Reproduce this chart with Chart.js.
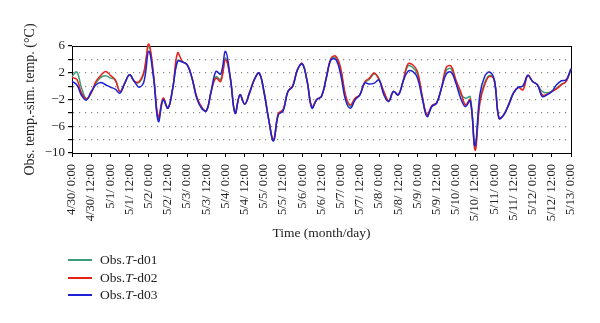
<!DOCTYPE html>
<html>
<head>
<meta charset="utf-8">
<script src="https://cdn.jsdelivr.net/npm/chart.js@4/dist/chart.umd.min.js"></script>
<style>
  html, body { margin: 0; padding: 0; background: #fff; }
  #wrap { position: relative; width: 600px; height: 323px; }
  #c { position: absolute; left: 0; top: 0; }
  #legend { position: absolute; left: 68px; top: 251px; font-family: "Liberation Serif", "DejaVu Serif", serif; font-size: 13.5px; color: #222; }
  .row { position: absolute; left: 0; height: 17px; line-height: 17px; white-space: nowrap; }
  .sw { position: absolute; left: 0; top: 8px; width: 24px; height: 2px; }
  .tx { position: absolute; left: 32px; top: 0; }
</style>
</head>
<body>
<div id="wrap">
  <canvas id="c" width="600" height="323"></canvas>
  <div id="legend"></div>
</div>
<script>
// ---- data (hours since 4/30 0:00, every 3 h) ----
const hours = Array.from({length: 105}, (_, i) => i * 3);

const seriesNames = ["d01", "d02", "d03"];
const seriesColors = ["#3a9f78", "#e8201c", "#1f1fd6"];

const d01 = [1.45, 2.1, -0.3, -1.9, -1.0, 0.45, 1.3, 1.55, 1.2, 0.95, -0.8, 0.45, 1.7, 0.7, 0.55, 1.95, 6.0, 1.5, -5.05, -1.9, -3.3, -0.3, 3.8, 3.65, 3.2, 1.25, -1.7, -3.2, -3.7, -0.8, 1.4, 1.0, 4.2, 1.2, -4.05, -1.3, -2.7, -1.0, 1.0, 1.95, -0.8, -5.0, -8.1, -4.2, -3.6, -0.8, 0.0, 2.45, 3.35, 0.75, -3.2, -2.0, -1.5, 1.25, 4.1, 4.2, 2.3, -1.6, -3.0, -1.9, -1.3, 0.5, 1.05, 1.8, 1.1, -1.0, -2.2, -0.8, -1.3, 0.7, 3.0, 2.8, 1.8, -1.6, -4.4, -3.0, -2.5, -0.3, 2.3, 2.6, 0.7, -1.2, -1.8, -1.6, -9.2, -2.2, 0.5, 1.6, 0.95, -4.8, -4.2, -2.7, -1.0, -0.2, 0.0, 1.6, 0.7, 0.2, -0.8, -1.0, -0.8, -0.3, 0.3, 0.7, 2.6];
const d02 = [1.3, 1.0, -1.05, -1.9, -1.0, 0.7, 1.6, 2.2, 1.6, 0.95, -0.8, 0.45, 1.7, 0.7, 0.7, 2.2, 6.3, 1.7, -4.65, -1.8, -3.3, -0.3, 4.95, 3.7, 3.2, 1.3, -1.6, -3.1, -3.7, -0.8, 1.2, 0.7, 3.95, 1.2, -4.05, -1.3, -2.7, -0.9, 1.0, 1.95, -0.8, -5.0, -8.0, -4.1, -3.5, -0.8, 0.1, 2.5, 3.4, 0.8, -3.1, -2.0, -1.5, 1.3, 4.2, 4.45, 2.7, -1.3, -2.8, -1.8, -1.3, 0.6, 1.2, 1.95, 0.95, -0.8, -2.2, -0.8, -1.3, 0.7, 3.3, 3.2, 2.2, -1.5, -4.3, -2.9, -2.5, -0.3, 2.8, 3.0, 0.95, -0.8, -2.8, -2.0, -9.6, -2.55, 0.2, 1.45, 0.95, -4.8, -4.3, -2.8, -1.05, -0.2, -0.55, 1.6, 0.7, 0.2, -1.3, -1.2, -0.8, -0.4, 0.2, 0.7, 2.6];
const d03 = [0.7, 0.2, -1.4, -2.1, -0.8, 0.2, 0.55, 0.2, -0.15, -0.45, -1.05, 0.45, 1.7, 0.7, -0.15, 0.7, 5.2, 1.2, -5.3, -2.05, -3.3, -0.3, 3.7, 3.6, 3.2, 1.2, -1.8, -3.3, -3.7, -0.8, 2.2, 1.8, 5.2, 1.2, -4.05, -1.3, -2.7, -1.05, 0.95, 1.95, -0.8, -5.0, -8.2, -4.3, -3.7, -0.8, -0.05, 2.45, 3.3, 0.7, -3.3, -2.05, -1.55, 1.2, 3.95, 3.95, 1.7, -2.05, -3.3, -2.05, -1.3, 0.45, 0.3, 0.45, 0.9, -1.3, -2.3, -0.8, -1.3, 0.7, 2.2, 2.2, 1.2, -1.8, -4.55, -3.05, -2.55, -0.3, 1.8, 2.1, 0.45, -1.8, -3.05, -2.2, -8.9, -1.3, 1.45, 2.1, 0.95, -4.8, -4.3, -2.8, -1.05, -0.2, 0.05, 1.6, 0.7, 0.2, -1.55, -1.3, -0.8, 0.2, 0.8, 0.95, 2.6];

const xTickLabels = ["4/30/ 0:00", "4/30/ 12:00", "5/1/ 0:00", "5/1/ 12:00", "5/2/ 0:00", "5/2/ 12:00", "5/3/ 0:00", "5/3/ 12:00", "5/4/ 0:00", "5/4/ 12:00", "5/5/ 0:00", "5/5/ 12:00", "5/6/ 0:00", "5/6/ 12:00", "5/7/ 0:00", "5/7/ 12:00", "5/8/ 0:00", "5/8/ 12:00", "5/9/ 0:00", "5/9/ 12:00", "5/10/ 0:00", "5/10/ 12:00", "5/11/ 0:00", "5/11/ 12:00", "5/12/ 0:00", "5/12/ 12:00", "5/13/ 0:00"];
const yLabelValues = [6, 2, -2, -6, -10];

const seriesValues = [d01, d02, d03];

// ---- chart ----
const serif = "'Liberation Serif', 'DejaVu Serif', serif";
const datasets = seriesValues.map((vals, k) => ({
  label: "Obs.T-" + seriesNames[k],
  data: vals.map((v, i) => ({x: hours[i], y: v})),
  borderColor: seriesColors[k],
  backgroundColor: seriesColors[k],
  borderWidth: 1.5,
  pointRadius: 0,
  tension: 0.4,
  fill: false,
  clip: false,
  order: seriesValues.length - k
}));

new Chart(document.getElementById('c'), {
  type: 'line',
  data: { datasets },
  options: {
    responsive: false,
    animation: false,
    layout: { padding: { left: 0, right: 0, top: 0, bottom: 78 } },
    plugins: { legend: { display: false }, tooltip: { enabled: false } },
    scales: {
      x: {
        type: 'linear', position: 'bottom', min: 0, max: 312,
        afterFit: s => { s.height = 92; },
        ticks: {
          stepSize: 12, autoSkip: false, maxRotation: 90, minRotation: 90, padding: 7,
          color: '#222', font: { family: serif, size: 12.5 },
          callback: v => xTickLabels[Math.round(v / 12)]
        },
        grid: { drawOnChartArea: false, drawTicks: true, tickLength: 4, tickColor: '#000' },
        border: { display: true, color: '#000', width: 1 },
        title: { display: true, text: 'Time (month/day)', color: '#222', font: { family: serif, size: 13.5 }, padding: { top: 0, bottom: 3 } }
      },
      x2: {
        type: 'linear', position: 'top', min: 0, max: 312,
        afterFit: s => { s.height = 46; },
        ticks: { display: false },
        grid: { display: false },
        border: { display: true, color: '#000', width: 1 }
      },
      y: {
        type: 'linear', position: 'left', min: -10, max: 6,
        afterFit: s => { s.width = 72; },
        ticks: {
          stepSize: 2, autoSkip: false, padding: 3, color: '#222', font: { family: serif, size: 13 },
          callback: v => yLabelValues.includes(v) ? String(v).replace('-', '\u2212') : ''
        },
        grid: {
          drawOnChartArea: true, drawTicks: true, tickLength: 4, tickColor: '#000',
          color: ctx => (ctx.tick && (ctx.tick.value === 6 || ctx.tick.value === -10)) ? 'rgba(0,0,0,0)' : '#8a8a8a',
          lineWidth: 1.2
        },
        border: { display: true, color: '#000', width: 1, dash: [1.2, 4.8] },
        title: { display: true, text: 'Obs. temp.-sim. temp. (\u00B0C)', color: '#222', font: { family: serif, size: 14 }, padding: { top: 22, bottom: 0 } }
      },
      y2: {
        type: 'linear', position: 'right', min: -10, max: 6,
        afterFit: s => { s.width = 29; },
        ticks: { display: false },
        grid: { display: false },
        border: { display: true, color: '#000', width: 1 }
      }
    }
  }
});

// ---- legend (HTML text) ----
const legend = document.getElementById('legend');
seriesNames.forEach((n, k) => {
  const row = document.createElement('div');
  row.className = 'row';
  row.style.top = Math.round(k * 17.5) + 'px';
  row.innerHTML = '<span class="sw" style="background-color:' + seriesColors[k] + '"></span><span class="tx">Obs.<i>T</i>-' + n + '</span>';
  legend.appendChild(row);
});
</script>
</body>
</html>
